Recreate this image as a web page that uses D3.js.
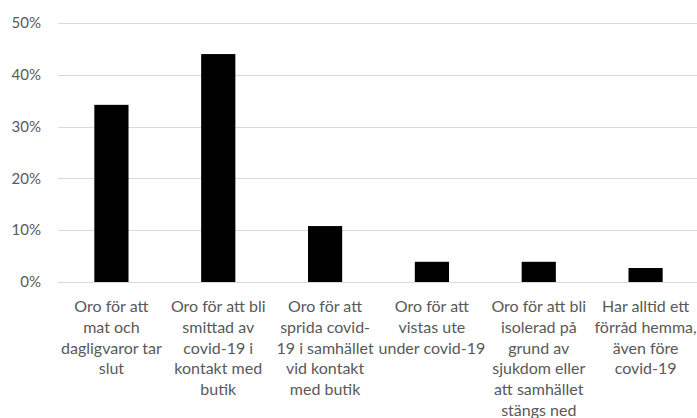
<!DOCTYPE html>
<html>
<head>
<meta charset="utf-8">
<script src="https://cdn.jsdelivr.net/npm/d3@7"></script>
<style>
  body { margin: 0; background: #fff; }
  svg text { font-family: Lato, "Open Sans", sans-serif; fill: #595959; }
</style>
</head>
<body>
<svg id="chart" width="697" height="418"></svg>
<script>
// categories, one array of lines per label (line breaks as in the chart)
const categories = [
    ["Oro för att", "mat och", "dagligvaror tar", "slut"],
    ["Oro för att bli", "smittad av", "covid-19 i", "kontakt med", "butik"],
    ["Oro för att", "sprida covid-", "19 i samhället", "vid kontakt", "med butik"],
    ["Oro för att", "vistas ute", "under covid-19"],
    ["Oro för att bli", "isolerad på", "grund av", "sjukdom eller", "att samhället", "stängs ned"],
    ["Har alltid ett", "förråd hemma,", "även före", "covid-19"]
]
const values = [0.342, 0.44, 0.108, 0.039, 0.039, 0.027]
const yTicks = [0, 0.1, 0.2, 0.3, 0.4, 0.5]

const svg = d3.select('#chart')
const margin = {top: 23, right: -2, bottom: 136, left: 58}
const width = +svg.attr('width') - margin.left - margin.right
const height = +svg.attr('height') - margin.top - margin.bottom

const x = d3.scaleBand()
    .domain(d3.range(categories.length))
    .range([margin.left, margin.left + width])
    .paddingInner(0.68)
    .paddingOuter(0.34)

const y = d3.scaleLinear()
    .domain([0, 0.5])
    .range([margin.top + height, margin.top])

// gridlines
svg.append('g')
    .selectAll('line')
    .data(yTicks)
    .enter()
    .append('line')
    .attr('x1', margin.left)
    .attr('x2', margin.left + width)
    .attr('y1', d => Math.round(y(d)) + 0.5)
    .attr('y2', d => Math.round(y(d)) + 0.5)
    .style('stroke', '#d9d9d9')
    .style('stroke-width', 1)

// y labels
svg.append('g')
    .selectAll('text')
    .data(yTicks)
    .enter()
    .append('text')
    .attr('x', 41)
    .attr('y', d => y(d))
    .attr('dy', '0.35em')
    .attr('text-anchor', 'end')
    .style('font-size', '15px')
    .text(d => d3.format('.0%')(d))

// bars
svg.append('g')
    .selectAll('rect')
    .data(values)
    .enter()
    .append('rect')
    .attr('x', (d, i) => x(i))
    .attr('width', x.bandwidth())
    .attr('y', d => y(d))
    .attr('height', d => y(0) - y(d))
    .attr('fill', '#000')

// x labels
const labels = svg.append('g')
    .selectAll('text')
    .data(categories)
    .enter()
    .append('text')
    .attr('text-anchor', 'middle')
    .style('font-size', '16px')
    .attr('transform', (d, i) => `translate(${x(i) + x.bandwidth() / 2},${y(0) + 30})`)

labels.selectAll('tspan')
    .data(d => d)
    .enter()
    .append('tspan')
    .attr('x', 0)
    .attr('y', (d, i) => i * 20.8)
    .text(d => d)
</script>
</body>
</html>
